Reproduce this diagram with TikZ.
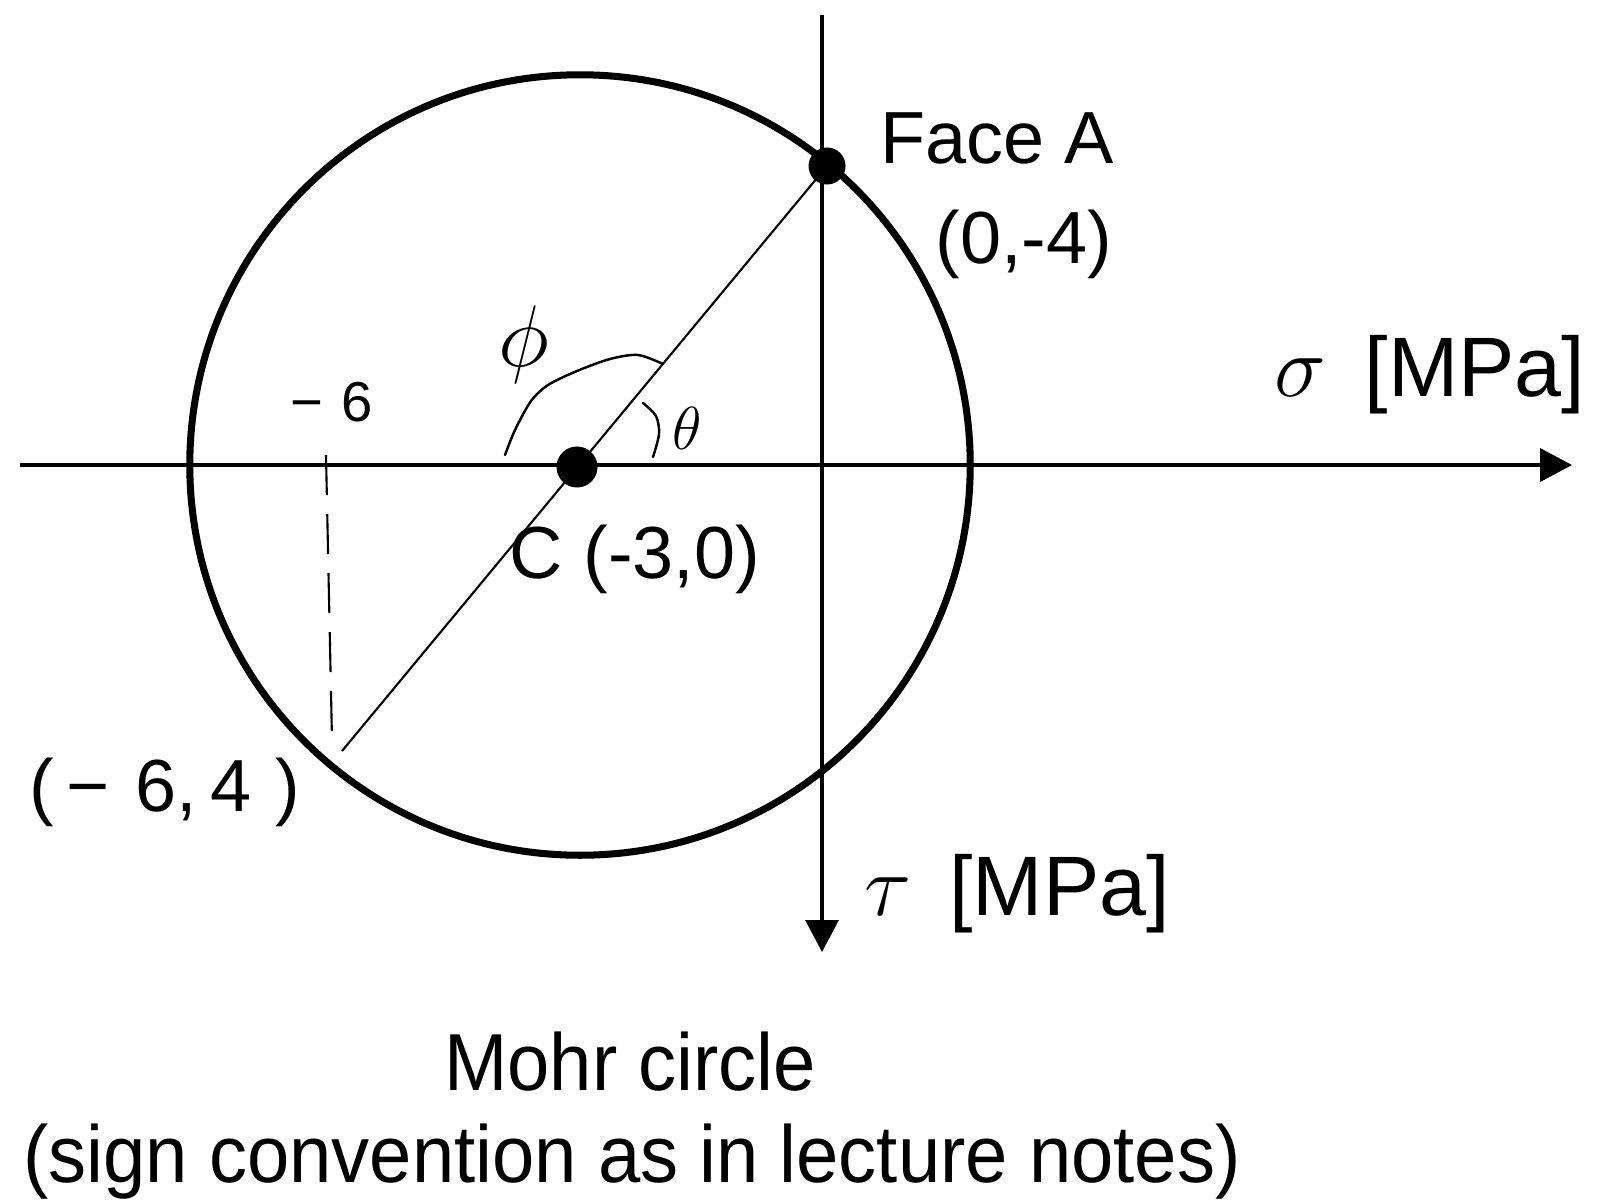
\documentclass[tikz,border=0pt]{standalone}
\usepackage{fontspec}
\setmainfont{Liberation Sans}
\usetikzlibrary{arrows.meta,positioning}

\begin{document}
\begin{tikzpicture}[
    x=0.01cm, y=-0.01cm,
    axis/.style={line width=1.1pt, -{Triangle[length=3.2mm, width=3.3mm]}},
    mohr/.style={line width=2pt},
    dot/.style={circle, fill=black, inner sep=0pt, minimum size=#1},
    dot/.default=4mm,
    lbl/.style={inner sep=0pt, anchor=base, font=\fontsize{21}{25}\selectfont},
    axlbl/.style={lbl, font=\fontsize{24}{28}\selectfont},
    caption/.style={lbl, font=\fontsize{23}{27}\selectfont\addfontfeature{FakeStretch=0.94}},
    hand/.style={line width=0.7pt, line cap=round, line join=round},
    handtxt/.style={inner sep=0pt, anchor=base}
]
\useasboundingbox (0,0) rectangle (1601,1203);

% axes
\coordinate (west) at (20,465);
\coordinate (east) at (1572,465);
\coordinate (north) at (822,15);
\coordinate (south) at (822,952);
\draw[axis] (west) -- (east);
\draw[axis, line width=0.9pt] (north) -- (south);

% Mohr circle with its diameter
\draw[mohr] (580,465) circle[radius=3.9cm];
\node[dot=4.1mm] (C) at (577,467) {};
\node[dot=3.7mm] (A) at (827,166) {};
\coordinate (B) at (342,751);
\draw[line width=0.6pt] (A.center) -- (B);

% dashed projection
\coordinate (dtop) at (326,455);
\coordinate (dbot) at (332,740);
\draw[line width=0.6pt, dash pattern=on 4mm off 1.9mm] (dtop) -- (dbot);

% printed labels
\node[lbl] (facea) at (997,163) {Face A};
\node[lbl] (faceapt) at (1024,263) {(0,-4)};
\node[lbl] (clbl) at (635,578) {C (-3,0)};
\node[axlbl] (sigma) at (1430,396) {$\sigma$\hspace{0.45em}[MPa]};
\node[axlbl] (tau) at (1017,915) {$\tau$\hspace{0.45em}[MPa]};
\node[caption] (title) at (630,1090) {Mohr circle};
\node[caption] (subtitle) at (632,1182) {(sign convention as in lecture notes)};

% handwritten notes
\node[handtxt, font=\fontsize{16}{18}\selectfont] (minussix) at (332,421) {−\hspace{1.8mm}6};
\node[handtxt, font=\fontsize{21}{25}\selectfont] (bpt) at (165,811) {(\hspace{1.2mm}−\hspace{2.6mm}6,\hspace{1.4mm}4\hspace{2.4mm})};
\node[handtxt, anchor=center, font=\fontsize{26}{30}\selectfont] (phi) at (524,345) {$\phi$};
\node[handtxt, anchor=center, font=\fontsize{18}{20}\selectfont] (theta) at (687,428) {$\theta$};
\draw[hand] plot[smooth] coordinates {(505,455) (515,430) (531,401) (548,385) (577,371) (610,359) (638,355) (663,364)};
\draw[hand] plot[smooth] coordinates {(643,403) (656,416) (659,434) (653,457)};
\end{tikzpicture}
\end{document}
